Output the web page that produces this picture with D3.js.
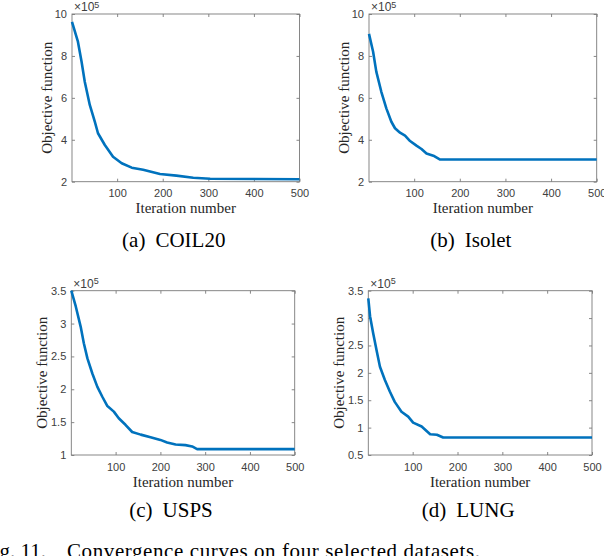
<!DOCTYPE html>
<html>
<head>
<meta charset="utf-8">
<script src="https://cdn.jsdelivr.net/npm/d3@7"></script>
<style>
  body { margin: 0; background: #fff; }
  svg { display: block; }
  .tick text { font-family: "Liberation Sans", Arial, sans-serif; font-size: 11px; fill: #404040; }
  .lbl { font-family: "Liberation Serif", "Times New Roman", serif; font-size: 15px; fill: #262626; }
  .cap { font-family: "Liberation Serif", "Times New Roman", serif; font-size: 21px; fill: #000; }
</style>
</head>
<body>
<svg width="604" height="556"></svg>
<script>
// values, objective in units of 1e5
const coilIter = [1, 14, 22, 29, 40, 51, 58, 73, 91, 110, 132, 157, 194, 230, 267, 304, 500];
const coilObj  = [9.63, 8.68, 7.72, 6.77, 5.66, 4.86, 4.31, 3.75, 3.19, 2.88, 2.67, 2.57, 2.37, 2.29, 2.19, 2.14, 2.12];

const isoletIter = [1, 10, 17, 28, 39, 50, 58, 69, 80, 91, 105, 116, 127, 142, 156, 500];
const isoletObj  = [9.05, 8.2, 7.25, 6.29, 5.5, 4.86, 4.55, 4.34, 4.2, 3.94, 3.72, 3.56, 3.35, 3.24, 3.06, 3.06];

const uspsIter = [1, 11, 22, 29, 37, 48, 59, 70, 81, 96, 107, 122, 137, 156, 178, 200, 215, 234, 256, 271, 282, 500];
const uspsObj  = [3.5, 3.26, 2.95, 2.70, 2.47, 2.24, 2.04, 1.89, 1.75, 1.66, 1.56, 1.46, 1.35, 1.31, 1.27, 1.23, 1.19, 1.16, 1.15, 1.13, 1.09, 1.09];

const lungIter = [1, 5, 12, 20, 27, 38, 49, 60, 75, 90, 101, 120, 139, 154, 168, 500];
const lungObj  = [3.36, 3.03, 2.72, 2.39, 2.11, 1.87, 1.66, 1.47, 1.29, 1.2, 1.09, 1.02, 0.88, 0.87, 0.82, 0.82];

const xTicks = [100, 200, 300, 400, 500];
const yTicksBig = [2, 4, 6, 8, 10];
const yTicksUsps = [1, 1.5, 2, 2.5, 3, 3.5];
const yTicksLung = [0.5, 1, 1.5, 2, 2.5, 3, 3.5];

const panels = [
  {tag: "(a)", name: "COIL20", iter: coilIter, obj: coilObj, ydom: [2, 10], yticks: yTicksBig,
   box: {l: 72, r: 299.5, t: 14, b: 181.7}, capY: 247, ylOff: 20},
  {tag: "(b)", name: "Isolet", iter: isoletIter, obj: isoletObj, ydom: [2, 10], yticks: yTicksBig,
   box: {l: 369, r: 596.7, t: 14, b: 181.7}, capY: 247, ylOff: 20.5},
  {tag: "(c)", name: "USPS", iter: uspsIter, obj: uspsObj, ydom: [1, 3.5], yticks: yTicksUsps,
   box: {l: 71.3, r: 294.7, t: 290.7, b: 455}, capY: 517, ylOff: 24.5},
  {tag: "(d)", name: "LUNG", iter: lungIter, obj: lungObj, ydom: [0.5, 3.5], yticks: yTicksLung,
   box: {l: 368.3, r: 592, t: 290.7, b: 455}, capY: 517, ylOff: 24.5}
];

const svg = d3.select("svg");
svg.append("rect").attr("width", 604).attr("height", 556).attr("fill", "#fff");

const axisColor = "#7a7a7a";

panels.forEach(function(p) {
  const b = p.box;
  const x = d3.scaleLinear().domain([1, 500]).range([b.l, b.r]);
  const y = d3.scaleLinear().domain(p.ydom).range([b.b, b.t]);
  const g = svg.append("g");

  // box
  g.append("rect")
    .attr("x", b.l).attr("y", b.t)
    .attr("width", b.r - b.l).attr("height", b.b - b.t)
    .attr("fill", "none").attr("stroke", axisColor).attr("stroke-width", 0.9);

  // ticks inside, on all sides
  const tl = 3;
  g.append("g").attr("transform", "translate(0," + b.b + ")")
    .call(d3.axisBottom(x).tickValues(xTicks).tickSizeInner(-tl).tickSizeOuter(0).tickPadding(8));
  g.append("g").attr("transform", "translate(" + b.l + ",0)")
    .call(d3.axisLeft(y).tickValues(p.yticks).tickSizeInner(-tl).tickSizeOuter(0).tickPadding(5)
      .tickFormat(d3.format("~g")));
  g.append("g").attr("transform", "translate(0," + b.t + ")")
    .call(d3.axisTop(x).tickValues(xTicks).tickSizeInner(-tl).tickSizeOuter(0).tickFormat(""));
  g.append("g").attr("transform", "translate(" + b.r + ",0)")
    .call(d3.axisRight(y).tickValues(p.yticks).tickSizeInner(-tl).tickSizeOuter(0).tickFormat(""));
  g.selectAll(".domain").remove();
  g.selectAll(".tick line").attr("stroke", axisColor).attr("stroke-width", 0.9);

  // curve
  const pts = p.iter.map(function(d, i) { return [d, p.obj[i]]; });
  g.append("path")
    .datum(pts)
    .attr("fill", "none")
    .attr("stroke", "#0072BD")
    .attr("stroke-width", 2.6)
    .attr("stroke-linejoin", "round")
    .attr("d", d3.line().x(function(d) { return x(d[0]); }).y(function(d) { return y(d[1]); }));

  // exponent label
  const ex = g.append("text")
    .attr("x", b.l + 2).attr("y", b.t - 3)
    .style("font-family", "Liberation Sans, Arial, sans-serif")
    .style("font-size", "12px").attr("fill", "#404040");
  ex.append("tspan").text("\u00d710");
  ex.append("tspan").attr("dy", -3.5).style("font-size", "9px").text("5");

  // axis labels
  const cx = (b.l + b.r) / 2;
  g.append("text").attr("class", "lbl")
    .attr("x", cx).attr("y", b.b + 31.5)
    .attr("text-anchor", "middle")
    .text("Iteration number");
  g.append("text").attr("class", "lbl")
    .attr("transform", "translate(" + (b.l - p.ylOff) + "," + ((b.t + b.b) / 2) + ") rotate(-90)")
    .attr("text-anchor", "middle")
    .text("Objective function");

  // sub caption
  const cap = g.append("text").attr("class", "cap")
    .attr("x", cx - 12).attr("y", p.capY)
    .attr("text-anchor", "middle");
  cap.append("tspan").text(p.tag);
  cap.append("tspan").attr("dx", 10).text(p.name);
});

// figure caption, cut at the bottom edge as in the source figure
svg.append("text").attr("class", "cap")
  .attr("x", 46).attr("y", 558).attr("text-anchor", "end")
  .text("Fig. 11.");
svg.append("text").attr("class", "cap")
  .attr("x", 67).attr("y", 558)
  .attr("textLength", 413).attr("lengthAdjust", "spacing")
  .text("Convergence curves on four selected datasets.");
</script>
</body>
</html>
